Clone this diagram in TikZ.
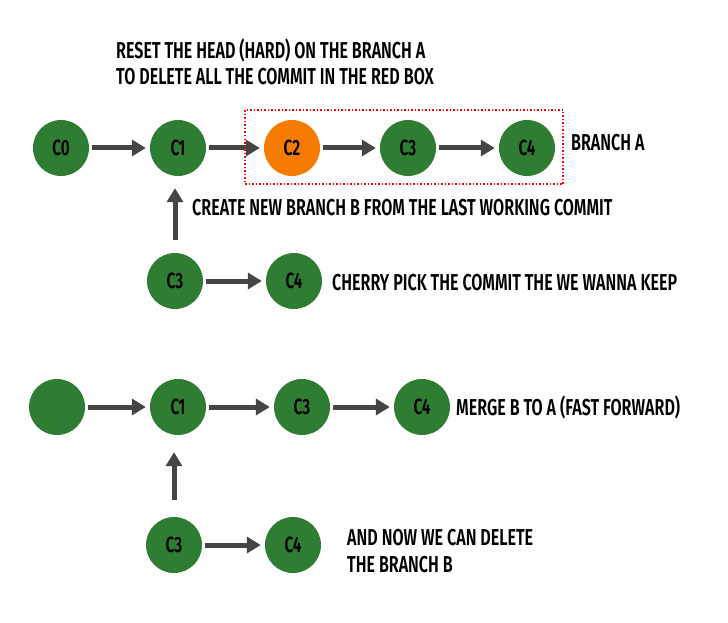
\documentclass[tikz,border=0pt]{standalone}
\usepackage{fontspec}
\setmainfont{Fira Sans}[FakeStretch=0.70,UprightFont=* SemiBold]
\usetikzlibrary{arrows.meta}
\definecolor{cgreen}{HTML}{2E7D32}
\definecolor{corange}{HTML}{F57C00}
\definecolor{carrow}{HTML}{454545}
\begin{document}
\begin{tikzpicture}[x=1pt,y=-1pt,
  commit/.style={circle,minimum size=56pt,inner sep=0pt,fill=cgreen,text=black,font=\fontsize{22}{24}\selectfont},
  bad/.style={commit,fill=corange},
  conn/.style={draw=carrow,line width=5pt,-{Triangle[length=14pt,width=16pt]},shorten <=3pt,shorten >=4pt},
  lbl/.style={anchor=west,inner sep=0pt,font=\fontsize{23}{25}\selectfont,text=black}]
\useasboundingbox (0,0) rectangle (728,623);
% row 1
\node[commit] (a0) at (61,148) {C0};
\node[commit] (a1) at (178,148) {C1};
\node[bad] (a2) at (292,148) {C2};
\node[commit] (a3) at (408,148) {C3};
\node[commit] (a4) at (527,148) {C4};
\draw[conn] (a0) -- (a1);
\draw[conn] (a1) -- (a2);
\draw[conn] (a2) -- (a3);
\draw[conn] (a3) -- (a4);
\node[draw=red,dotted,line width=1.5pt,minimum width=318pt,minimum height=74pt,inner sep=0pt] (box) at (404,147) {};
\node[lbl] (ba) at (571,143) {BRANCH A};
\node[lbl] (t1) at (116,50) {RESET THE HEAD (HARD) ON THE BRANCH A};
\node[lbl] (t2) at (116,77) {TO DELETE ALL THE COMMIT IN THE RED BOX};
% row 2
\node[commit] (b3) at (175,281) {C3};
\node[commit] (b4) at (294,281) {C4};
\draw[conn] (b3) -- (b4);
\draw[conn,shorten >=12pt,shorten <=13pt] (b3.north) -- (b3.north |- a1.south);
\node[lbl] (t3) at (192,208) {CREATE NEW BRANCH B FROM THE LAST WORKING COMMIT};
\node[lbl] (t4) at (332,283) {CHERRY PICK THE COMMIT THE WE WANNA KEEP};
% row 3
\node[commit] (c0) at (57,407) {};
\node[commit] (c1) at (178,407) {C1};
\node[commit] (c3) at (302,407) {C3};
\node[commit] (c4) at (422,407) {C4};
\draw[conn] (c0) -- (c1);
\draw[conn] (c1) -- (c3);
\draw[conn] (c3) -- (c4);
\node[lbl] (t5) at (456,407) {MERGE B TO A (FAST FORWARD)};
% row 4
\node[commit] (d3) at (174,545) {C3};
\node[commit] (d4) at (293,545) {C4};
\draw[conn] (d3) -- (d4);
\draw[conn,shorten >=17pt,shorten <=17pt] (d3.north) -- (d3.north |- c1.south);
\node[lbl] (t6) at (347,538) {AND NOW WE CAN DELETE};
\node[lbl] (t7) at (347,565) {THE BRANCH B};
\end{tikzpicture}
\end{document}
